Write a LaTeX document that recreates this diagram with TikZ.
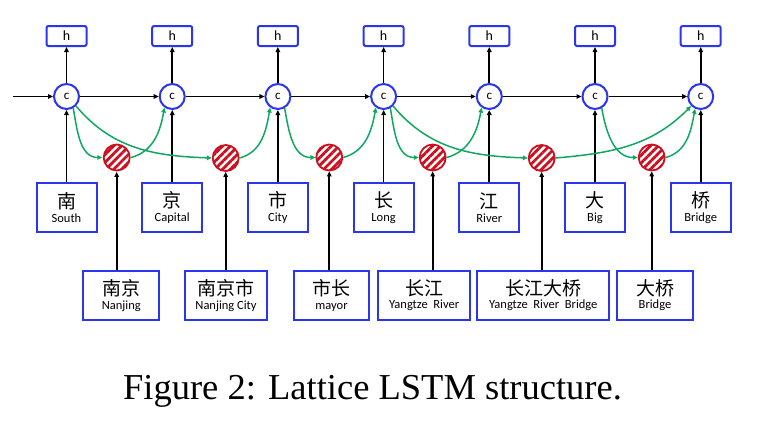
\documentclass[tikz,border=0pt]{standalone}
\usepackage{fontspec}
\setmainfont{Liberation Serif}
\setsansfont{Carlito}
\newfontfamily\zhfont{Noto Sans CJK SC}
\usepackage{tikz}
\usetikzlibrary{arrows.meta,positioning,patterns.meta}
\definecolor{cellblue}{HTML}{2B35F0}
\definecolor{hatchred}{HTML}{CC1020}
\definecolor{latgreen}{HTML}{10A860}
\newcommand{\zhen}[2]{{\zhfont\fontsize{19}{19}\selectfont #1}\\{#2}}

\begin{document}
\begin{tikzpicture}[
  x=1pt, y=-1pt,
  node distance=78.7pt,
  cell/.style    ={circle, draw=cellblue, line width=2pt, fill=white, minimum size=25pt, inner sep=0pt, font=\sffamily\fontsize{13}{13}\selectfont},
  hbox/.style    ={draw=cellblue, line width=2pt, fill=white, rounded corners=2pt, minimum width=40pt, minimum height=20pt, inner sep=0pt, font=\sffamily\fontsize{14}{14}\selectfont},
  charbox/.style ={draw=cellblue, line width=2pt, fill=white, minimum width=60pt, minimum height=49pt, align=center, inner sep=1pt, font=\sffamily\fontsize{12.5}{13.5}\selectfont},
  wordbox/.style ={charbox, minimum width=#1},
  wordcell/.style={circle, draw=hatchred, line width=1.8pt, minimum size=26pt, inner sep=0pt, preaction={fill=white}, pattern={Lines[angle=45,distance=5.5pt,line width=2.8pt]}, pattern color=hatchred},
  flow/.style    ={-{Triangle[length=5pt,width=4.5pt]}, line width=1.7pt, black},
  lat/.style     ={-{Triangle[length=5pt,width=4.5pt]}, line width=1.5pt, latgreen},
]
  \useasboundingbox (0,0) rectangle (759,423);

  % character cells
  \node[cell] (c1) at (66.5,96.5) {c};
  \node[cell, right=of c1] (c2) {c};
  \node[cell, right=of c2] (c3) {c};
  \node[cell, right=of c3] (c4) {c};
  \node[cell, right=of c4] (c5) {c};
  \node[cell, right=of c5] (c6) {c};
  \node[cell, right=of c6] (c7) {c};

  \node[hbox, above=36pt of c1] (h1) {h};
  \node[hbox, above=36pt of c2] (h2) {h};
  \node[hbox, above=36pt of c3] (h3) {h};
  \node[hbox, above=36pt of c4] (h4) {h};
  \node[hbox, above=36pt of c5] (h5) {h};
  \node[hbox, above=36pt of c6] (h6) {h};
  \node[hbox, above=36pt of c7] (h7) {h};

  \node[charbox, below=72pt of c1] (south)   {\zhen{南}{South}};
  \node[charbox, below=72pt of c2] (capital) {\zhen{京}{Capital}};
  \node[charbox, below=72pt of c3] (city)    {\zhen{市}{City}};
  \node[charbox, below=72pt of c4] (long)    {\zhen{长}{Long}};
  \node[charbox, below=72pt of c5] (river)   {\zhen{江}{River}};
  \node[charbox, below=72pt of c6] (big)     {\zhen{大}{Big}};
  \node[charbox, below=72pt of c7] (bridge)  {\zhen{桥}{Bridge}};

  % word cells
  \node[wordcell] (w1) at (116.7,157.5) {};
  \node[wordcell] (w2) at (225.7,158)   {};
  \node[wordcell] (w3) at (329.3,157.5) {};
  \node[wordcell] (w4) at (432.7,157.5) {};
  \node[wordcell] (w5) at (541.7,158)   {};
  \node[wordcell] (w6) at (651.7,157.5) {};

  \node[wordbox=76pt]  (nanjing)  at (121.3,295.3) {\zhen{南京}{Nanjing}};
  \node[wordbox=82.6pt](njcity)   at (226,295.3)   {\zhen{南京市}{Nanjing City}};
  \node[wordbox=75pt]  (mayor)    at (331.5,295.3) {\zhen{市长}{mayor}};
  \node[wordbox=91.7pt](yangtze)  at (424.2,295.3) {\zhen{长江}{Yangtze\ \ River}};
  \node[wordbox=132pt] (yrbridge) at (543.3,295.3) {\zhen{长江大桥}{Yangtze\ \ River\ \ Bridge}};
  \node[wordbox=75.4pt](dbridge)  at (655,295.3)   {\zhen{大桥}{Bridge}};

  \coordinate (start) at (13,96.5);

  % chain
  \draw[flow] (start) -- (c1);
  \draw[flow] (c1) -- (c2);
  \draw[flow] (c2) -- (c3);
  \draw[flow] (c3) -- (c4);
  \draw[flow] (c4) -- (c5);
  \draw[flow] (c5) -- (c6);
  \draw[flow] (c6) -- (c7);

  \draw[flow] (c1) -- (h1);
  \draw[flow] (c2) -- (h2);
  \draw[flow] (c3) -- (h3);
  \draw[flow] (c4) -- (h4);
  \draw[flow] (c5) -- (h5);
  \draw[flow] (c6) -- (h6);
  \draw[flow] (c7) -- (h7);

  \draw[flow] (south)   -- (c1);
  \draw[flow] (capital) -- (c2);
  \draw[flow] (city)    -- (c3);
  \draw[flow] (long)    -- (c4);
  \draw[flow] (river)   -- (c5);
  \draw[flow] (big)     -- (c6);
  \draw[flow] (bridge)  -- (c7);

  \draw[flow] (w1 |- nanjing.north)  -- (w1);
  \draw[flow] (w2 |- njcity.north)   -- (w2);
  \draw[flow] (w3 |- mayor.north)    -- (w3);
  \draw[flow] (w4 |- yangtze.north)  -- (w4);
  \draw[flow] (w5 |- yrbridge.north) -- (w5);
  \draw[flow] (w6 |- dbridge.north)  -- (w6);

  % lattice paths
  \draw[lat] (c1.-60) to[out=-80, in=180]  (w1.west);
  \draw[lat] (w1.east) to[out=15, in=-100] (c2.-125);
  \draw[lat] (c1.-45) to[out=-50, in=178]  (w2.west);
  \draw[lat] (w2.east) to[out=15, in=-100] (c3.-125);
  \draw[lat] (c3.-60) to[out=-80, in=180]  (w3.west);
  \draw[lat] (w3.east) to[out=15, in=-100] (c4.-125);
  \draw[lat] (c4.-60) to[out=-80, in=180]  (w4.west);
  \draw[lat] (w4.east) to[out=15, in=-100] (c5.-125);
  \draw[lat] (c4.-45) to[out=-50, in=178]  (w5.west);
  \draw[lat] (w5.east) to[out=5, in=-135]  (c7.-135);
  \draw[lat] (c6.-60) to[out=-80, in=180]  (w6.west);
  \draw[lat] (w6.east) to[out=15, in=-100] (c7.-115);

  \node[font=\fontsize{36.5}{40}\selectfont, anchor=base] (caption) at (372.5,399) {Figure 2: Lattice LSTM structure.};
\end{tikzpicture}
\end{document}
